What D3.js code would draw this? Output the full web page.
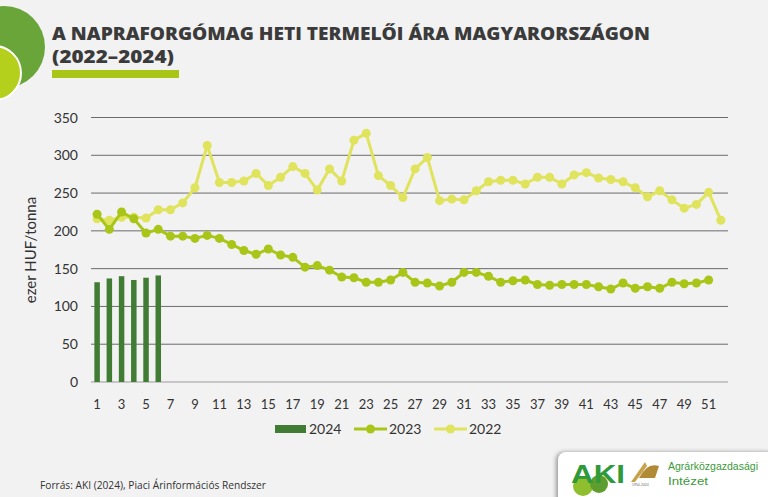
<!DOCTYPE html>
<html>
<head>
<meta charset="utf-8">
<script src="https://cdn.jsdelivr.net/npm/d3@7"></script>
<style>
  html, body { margin: 0; padding: 0; background: #f2f2f2; }
  svg { display: block; }
</style>
</head>
<body>
<svg id="chart"></svg>
<script>
const weeks = d3.range(1, 53);
const tickWeeks = weeks.filter(w => w % 2 === 1);

// ezer HUF/tonna, heti átlagár
const v2024 = [132, 137, 140, 135, 138, 141];
const v2023 = [222, 202, 225, 216, 197, 202, 193, 193, 190, 194, 190, 182, 174, 169, 176, 168, 165, 152,
    154, 148, 139, 138, 132, 132, 135, 145, 132, 131, 127, 132, 145, 145, 140, 132, 134, 135,
    129, 128, 129, 129, 129, 126, 123, 131, 124, 126, 124, 132, 130, 131, 135];
const v2022 = [216, 214, 218, 218, 217, 228, 228, 237, 257, 313, 264, 264, 266, 276, 260, 271, 285, 276,
    254, 282, 266, 320, 329, 273, 260, 244, 282, 297, 240, 242, 241, 253, 265, 267, 267, 262,
    271, 271, 262, 274, 277, 270, 268, 265, 257, 245, 253, 241, 230, 235, 251, 214];
const yTicks = [0, 50, 100, 150, 200, 250, 300, 350];

const colors = { y2024: '#417c34', y2023: '#a9c618', y2022: '#e0e35c' };

const width = 768;
const height = 497;

const svg = d3.select('svg#chart')
    .attr('width', width)
    .attr('height', height);

svg.append('rect').attr('width', width).attr('height', height).attr('fill', '#f2f2f2');

// díszítő körök bal fent
svg.append('circle').attr('cx', 4).attr('cy', 47).attr('r', 41).attr('fill', '#6aa53a');
svg.append('circle').attr('cx', -6).attr('cy', 73).attr('r', 27)
    .attr('fill', '#b5cf1d').attr('stroke', '#ffffff').attr('stroke-width', 2);

// cím
svg.append('text')
    .attr('x', 52).attr('y', 40)
    .attr('font-family', 'Open Sans').attr('font-weight', 800).attr('font-size', 18)
    .attr('fill', '#3b3b3b')
    .attr('textLength', 598).attr('lengthAdjust', 'spacingAndGlyphs')
    .text('A NAPRAFORGÓMAG HETI TERMELŐI ÁRA MAGYARORSZÁGON');
svg.append('text')
    .attr('x', 52).attr('y', 63)
    .attr('font-family', 'Open Sans').attr('font-weight', 800).attr('font-size', 18)
    .attr('fill', '#3b3b3b')
    .attr('textLength', 122).attr('lengthAdjust', 'spacingAndGlyphs')
    .text('(2022–2024)');
svg.append('rect').attr('x', 52).attr('y', 70).attr('width', 127).attr('height', 8).attr('fill', '#a9c618');

const x = d3.scaleBand().domain(weeks).range([91, 727]);
const y = d3.scaleLinear().domain([0, 350]).range([382, 117.5]);
const cx = w => x(w) + x.bandwidth() / 2;

// rácsvonalak
svg.append('g')
    .selectAll('line')
    .data(yTicks)
    .join('line')
    .attr('x1', 91).attr('x2', 728)
    .attr('y1', d => y(d)).attr('y2', d => y(d))
    .attr('stroke', d => d === 0 ? '#9a9a9a' : '#6b6b6b')
    .attr('stroke-width', 1);

svg.append('g')
    .selectAll('text')
    .data(yTicks)
    .join('text')
    .attr('x', 78).attr('y', d => y(d) + 5)
    .attr('text-anchor', 'end')
    .attr('font-family', 'Lato').attr('font-size', 14)
    .attr('fill', '#333')
    .text(d => d);

svg.append('g')
    .selectAll('text')
    .data(tickWeeks)
    .join('text')
    .attr('x', d => cx(d)).attr('y', 409)
    .attr('text-anchor', 'middle')
    .attr('font-family', 'Lato').attr('font-size', 13)
    .attr('fill', '#333')
    .text(d => d);

svg.append('text')
    .attr('transform', 'translate(36,250) rotate(-90)')
    .attr('text-anchor', 'middle')
    .attr('font-family', 'Lato').attr('font-size', 15)
    .attr('fill', '#333')
    .text('ezer HUF/tonna');

// 2024 oszlopok
const barW = 5.5;
svg.append('g')
    .selectAll('rect')
    .data(v2024)
    .join('rect')
    .attr('x', (d, i) => cx(i + 1) - barW / 2)
    .attr('y', d => y(d))
    .attr('width', barW)
    .attr('height', d => y(0) - y(d))
    .attr('fill', colors.y2024);

function drawLine(values, color) {
    const pts = values.map((v, i) => [cx(i + 1), y(v)]);
    svg.append('path')
        .attr('d', d3.line()(pts))
        .attr('fill', 'none')
        .attr('stroke', color)
        .attr('stroke-width', 3)
        .attr('stroke-linejoin', 'round');
    svg.append('g')
        .selectAll('circle')
        .data(pts)
        .join('circle')
        .attr('cx', d => d[0]).attr('cy', d => d[1])
        .attr('r', 4.5)
        .attr('fill', color);
}
drawLine(v2022, colors.y2022);
drawLine(v2023, colors.y2023);

// jelmagyarázat
const lg = svg.append('g').attr('font-family', 'Lato').attr('font-size', 14).attr('fill', '#333');
lg.append('rect').attr('x', 275).attr('y', 425).attr('width', 31).attr('height', 8).attr('fill', colors.y2024);
lg.append('text').attr('x', 309).attr('y', 434).text('2024');
[[354, colors.y2023, '2023'], [434, colors.y2022, '2022']].forEach(([lx, c, t]) => {
    lg.append('line').attr('x1', lx).attr('x2', lx + 33).attr('y1', 429).attr('y2', 429)
        .attr('stroke', c).attr('stroke-width', 3);
    lg.append('circle').attr('cx', lx + 16.5).attr('cy', 429).attr('r', 4.5).attr('fill', c);
    lg.append('text').attr('x', lx + 35).attr('y', 434).text(t);
});

// forrás
svg.append('text')
    .attr('x', 40).attr('y', 489)
    .attr('font-family', 'Open Sans').attr('font-size', 10).attr('fill', '#333')
    .attr('textLength', 226).attr('lengthAdjust', 'spacingAndGlyphs')
    .text('Forrás: AKI (2024), Piaci Árinformációs Rendszer');

// logó doboz
const logo = svg.append('g');
const shadow = svg.append('defs').append('filter').attr('id', 'sh');
shadow.append('feDropShadow').attr('dx', -2).attr('dy', 0).attr('stdDeviation', 2).attr('flood-color', '#999');
logo.append('rect').attr('x', 558).attr('y', 452).attr('width', 220).attr('height', 60).attr('rx', 8)
    .attr('fill', '#ffffff').attr('filter', 'url(#sh)');
logo.append('circle').attr('cx', 583).attr('cy', 486).attr('r', 10).attr('fill', '#8fbf2e');
logo.append('circle').attr('cx', 599).attr('cy', 484).attr('r', 9).attr('fill', '#5f9e2e');
logo.append('text').attr('x', 571).attr('y', 483)
    .attr('font-family', 'Liberation Sans').attr('font-weight', 700).attr('font-size', 26)
    .attr('fill', '#2f9a3a').attr('textLength', 54).attr('lengthAdjust', 'spacingAndGlyphs')
    .text('AKI');
logo.append('path').attr('d', 'M631,482 L645,462 L647,466 L635,482 Z').attr('fill', '#c8a24a');
logo.append('path').attr('d', 'M639,478 Q647,462 659,466 L655,478 Z').attr('fill', '#b08a35');
logo.append('text').attr('x', 632).attr('y', 486).attr('font-family', 'Liberation Sans')
    .attr('font-size', 3.5).attr('fill', '#666').text('1954-2024');
logo.append('text').attr('x', 668).attr('y', 470)
    .attr('font-family', 'Liberation Sans').attr('font-size', 11).attr('fill', '#3c9a3a')
    .attr('textLength', 90).attr('lengthAdjust', 'spacingAndGlyphs')
    .text('Agrárközgazdasági');
logo.append('text').attr('x', 668).attr('y', 485)
    .attr('font-family', 'Liberation Sans').attr('font-size', 11).attr('fill', '#3c9a3a')
    .attr('textLength', 40).attr('lengthAdjust', 'spacingAndGlyphs')
    .text('Intézet');
</script>
</body>
</html>
